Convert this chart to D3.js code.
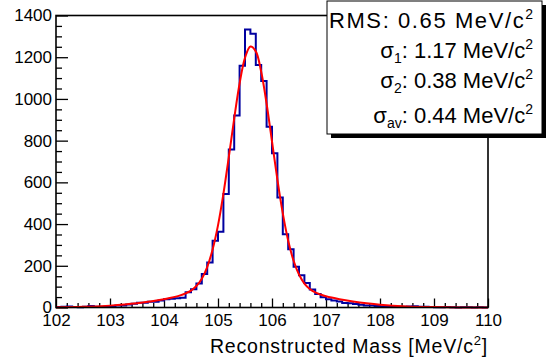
<!DOCTYPE html>
<html><head><meta charset="utf-8">
<script src="https://cdn.jsdelivr.net/npm/d3@7"></script>
<style>body{margin:0;background:#fff} svg{display:block} text{font-family:"Liberation Sans",Arial,Helvetica,sans-serif;fill:#000}</style>
</head><body><svg id="c" width="553" height="362"></svg>
<script>
// ---- data ----
const binLow = 102, binWidth = 0.1;
const counts = [
  2, 3, 5, 2, 1, 3, 7, 4, 4, 5,          // 102.0-102.9
  6, 10, 10, 14, 18, 23, 23, 27, 28, 33, // 103.0-103.9
  39, 42, 44, 47, 73, 88, 115, 161, 216, 320, // 104.0-104.9
  363, 544, 758, 920, 1159, 1333, 1313, 1163, 1086, 867, // 105.0-105.9
  739, 527, 351, 279, 195, 155, 118, 86, 65, 49, // 106.0-106.9
  39, 33, 29, 22, 20, 17, 13, 10, 9, 7,  // 107.0-107.9
  5, 5, 4, 3, 3, 5, 6, 4, 3, 2,          // 108.0-108.9
  1, 1, 2, 1, 0, 1, 1, 0, 1, 0           // 109.0-109.9
];
const fitX = [102, 102.5, 103, 103.5, 103.75, 104, 104.2, 104.3, 104.4, 104.5, 104.6, 104.7, 104.8, 104.9,
  105, 105.1, 105.2, 105.3, 105.4, 105.5, 105.6, 105.7, 105.8, 105.9, 106, 106.1, 106.2, 106.3, 106.4,
  106.5, 106.6, 106.7, 106.8, 106.9, 107, 107.25, 107.5, 107.75, 108, 108.5, 109, 109.5, 110];
const fitY = [1, 3, 9, 20, 29, 40, 51, 58, 68, 81, 103, 138, 194, 278,
  394, 545, 721, 906, 1074, 1197, 1251, 1228, 1130, 977, 796, 613, 451, 320, 224,
  158, 115, 89, 72, 62, 54, 40, 29, 20, 13, 5, 2, 0.4, 0.1];
const xMajor = [102, 103, 104, 105, 106, 107, 108, 109, 110];
const yMajor = [0, 200, 400, 600, 800, 1000, 1200, 1400];
const statNames = ["RMS", "σ", "σ", "σ"];
const statSubs = ["", "1", "2", "av"];
const statValues = ["0.65", "1.17", "0.38", "0.44"];
const xTitle = "Reconstructed Mass [MeV/c";

// ---- layout ----
const svg = d3.select("#c");
const L = 56, R = 488, T = 15.5, B = 307.5;
const x = d3.scaleLinear().domain([102, 110]).range([L, R]);
const y = d3.scaleLinear().domain([0, 1400]).range([B, T]);

const xMinor = d3.range(102, 110.001, 0.2).map(v => +v.toFixed(1)).filter(v => !xMajor.includes(v));
const yMinor = d3.range(0, 1400.1, 50).filter(v => !yMajor.includes(v));

const gx = svg.append("g").attr("transform", `translate(0,${B})`);
gx.call(d3.axisBottom(x).tickValues(xMajor).tickSize(-9).tickSizeOuter(0).tickPadding(6.5).tickFormat(d3.format("d")));
gx.selectAll("text").style("font-size", "17px").attr("fill", "#000");
const gxm = svg.append("g").attr("transform", `translate(0,${B})`);
gxm.call(d3.axisBottom(x).tickValues(xMinor).tickSize(-4.5).tickSizeOuter(0).tickFormat(""));

const gy = svg.append("g").attr("transform", `translate(${L},0)`);
gy.call(d3.axisLeft(y).tickValues(yMajor).tickSize(-12).tickSizeOuter(0).tickPadding(4).tickFormat(d3.format("d")));
gy.selectAll("text").style("font-size", "17px").attr("fill", "#000");
const gym = svg.append("g").attr("transform", `translate(${L},0)`);
gym.call(d3.axisLeft(y).tickValues(yMinor).tickSize(-6).tickSizeOuter(0).tickFormat(""));

svg.selectAll(".domain").remove();
svg.selectAll(".tick line").attr("stroke", "#000").attr("stroke-width", 1.3);

// histogram outline
const hp = d3.path();
counts.forEach((c, i) => {
  const x0 = x(binLow + i * binWidth), x1 = x(binLow + (i + 1) * binWidth);
  if (i === 0) hp.moveTo(x0, y(c)); else hp.lineTo(x0, y(c));
  hp.lineTo(x1, y(c));
});
svg.append("path").attr("d", hp.toString()).attr("fill", "none")
  .attr("stroke", "#0000a0").attr("stroke-width", 2);

// fit curve
const line = d3.line().x((d, i) => x(fitX[i])).y(d => y(d)).curve(d3.curveCatmullRom.alpha(0.5));
svg.append("path").attr("d", line(fitY)).attr("fill", "none")
  .attr("stroke", "#ff0000").attr("stroke-width", 2);

// frame
svg.append("rect").attr("x", L).attr("y", T).attr("width", R - L).attr("height", B - T)
  .attr("fill", "none").attr("stroke", "#000").attr("stroke-width", 1.6);

// x title
const tt = svg.append("text").attr("x", R).attr("y", 353).attr("text-anchor", "end")
  .style("font-size", "19.5px").style("letter-spacing", "0.8px");
tt.append("tspan").text(xTitle);
tt.append("tspan").attr("dy", -8).style("font-size", "13px").text("2");
tt.append("tspan").attr("dy", 8).text("]");

// stats box
const bx = 327, by = 1, bw = 215, bh = 133;
svg.append("rect").attr("x", bx + 4).attr("y", by + 4).attr("width", bw).attr("height", bh).attr("fill", "#000");
svg.append("rect").attr("x", bx).attr("y", by).attr("width", bw).attr("height", bh)
  .attr("fill", "#fff").attr("stroke", "#000").attr("stroke-width", 1);
const rowBase = [28, 58, 88, 123];
statNames.forEach((n, i) => {
  const t = svg.append("text").attr("x", 533).attr("y", rowBase[i]).attr("text-anchor", "end")
    .style("font-size", "22px");
  if (i === 0) t.attr("textLength", 204).attr("lengthAdjust", "spacing");
  t.append("tspan").text(n);
  if (statSubs[i]) {
    t.append("tspan").attr("dy", 5).style("font-size", "14px").text(statSubs[i]);
    t.append("tspan").attr("dy", -5).text(": " + statValues[i] + " MeV/c");
  } else {
    t.append("tspan").text(": " + statValues[i] + " MeV/c");
  }
  t.append("tspan").attr("dy", -9).style("font-size", "14px").text("2");
});
</script></body></html>
